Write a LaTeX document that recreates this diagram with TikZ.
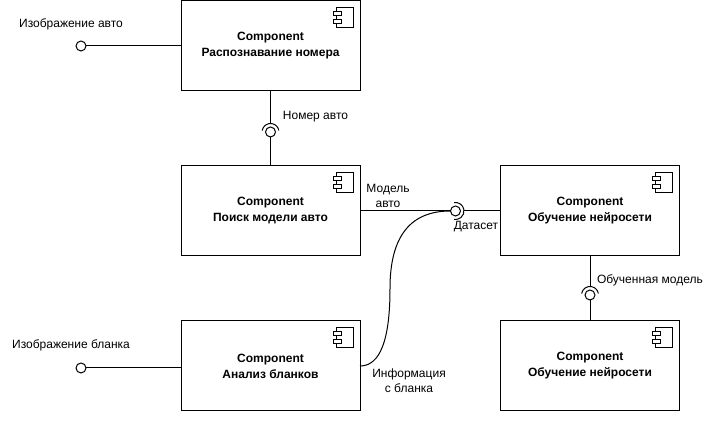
\documentclass[tikz,border=0pt]{standalone}
\usepackage{fontspec}
\setmainfont{Liberation Sans}
\begin{document}
\begin{tikzpicture}[x=0.75pt, y=0.75pt, line width=0.75pt,
    comp/.style={draw, minimum width=134.25pt, minimum height=67.5pt, inner sep=0pt, outer sep=0pt,
      align=center, font=\fontsize{9}{12}\selectfont\bfseries,
      execute at begin node=\vspace*{1.5pt}},
    port/.style={draw, circle, fill=white, minimum size=7.5pt, inner sep=0pt, outer sep=0pt},
    note/.style={inner sep=0pt, outer sep=0pt, align=center, font=\fontsize{9}{11.25}\selectfont},
    compicon/.pic={
      \draw (-24,-7) rectangle (-7,-27);
      \draw[fill=white] (-27,-11) rectangle (-19,-15);
      \draw[fill=white] (-27,-19) rectangle (-19,-23);
    }]
  \useasboundingbox (0,0) rectangle (714,423);
  % компоненты
  \node[comp] (recog) at (270.5,377) {Component\\Распознавание номера};
  \node[comp] (search) at (270.5,212) {Component\\Поиск модели авто};
  \node[comp] (blank) at (270.5,57) {Component\\Анализ бланков};
  \node[comp] (train) at (590,212) {Component\\Обучение нейросети};
  \node[comp] (trained) at (590,57) {Component\\Обучение нейросети};
  \foreach \n in {recog,search,blank,train,trained}
    \pic at (\n.north east) {compicon};
  % входы
  \node[port] (imgauto) at (81,377) {};
  \node[port] (imgblank) at (81,55) {};
  \draw (imgauto) -- (imgauto -| recog.west);
  \draw (imgblank) -- (imgblank -| blank.west);
  \node[note] at (71,399) {Изображение авто};
  \node[note] at (71,78) {Изображение бланка};
  % номер авто
  \node[port] (pnum) at (270.5,291) {};
  \coordinate (snum) at (270.5,299.5);
  \draw (recog) -- (snum);
  \draw (pnum) -- (search);
  \draw (pnum.center) ++(170:8.5) arc[start angle=170, end angle=10, radius=8.5];
  \node[note] at (315.5,306) {Номер авто};
  % датасет
  \node[port] (pdata) at (455.5,212) {};
  \coordinate (sdata) at (464,212);
  \draw (search) -- (pdata);
  \draw (train) -- (sdata);
  \draw (pdata.center) ++(100:8.5) arc[start angle=100, end angle=-100, radius=8.5];
  \draw (blank.east) .. controls (380,57) and (390,82.8) .. (390,134.5)
    .. controls (390,186.3) and (410,212) .. (pdata);
  \node[note] at (388,227.5) {Модель\\авто};
  \node[note] at (476,196) {Датасет};
  \node[note] at (409,42) {Информация\\с бланка};
  % обученная модель
  \node[port] (pmodel) at (590,128) {};
  \coordinate (smodel) at (590,136.5);
  \draw (train) -- (smodel);
  \draw (pmodel) -- (trained);
  \draw (pmodel.center) ++(170:8.5) arc[start angle=170, end angle=10, radius=8.5];
  \node[note, anchor=west] at (597,143) {Обученная модель};
\end{tikzpicture}
\end{document}
